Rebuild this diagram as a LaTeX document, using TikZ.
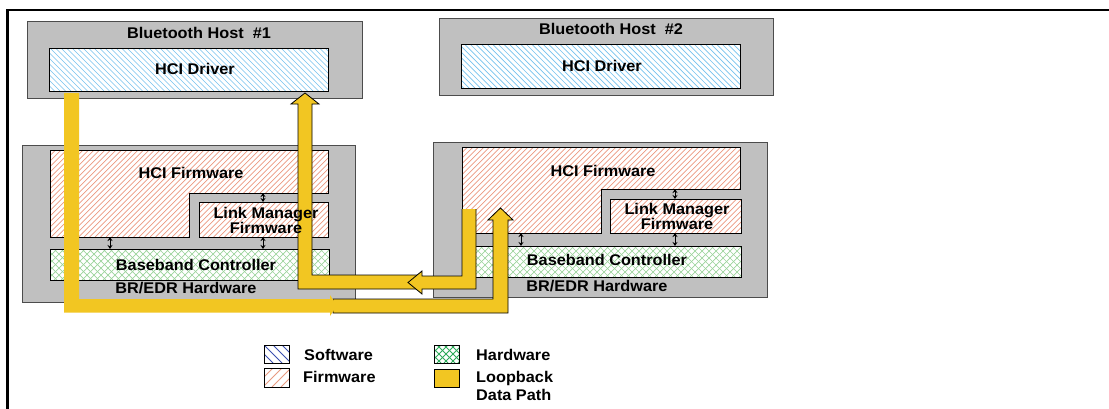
\documentclass[tikz,border=0pt]{standalone}
\usepackage{fontspec}
\setmainfont{Liberation Sans}[FakeStretch=1.05]
\usetikzlibrary{arrows.meta}
\definecolor{boxgray}{HTML}{C0C0C0}
\definecolor{loopyel}{HTML}{F2C622}
\definecolor{swblue}{HTML}{74C2EE}
\definecolor{fwsalmon}{HTML}{EC9880}
\definecolor{hwgreen}{HTML}{9CD49C}
\definecolor{lgblue}{HTML}{3A4FB0}
\definecolor{lgsalmon}{HTML}{E89A80}
\definecolor{lggreen}{HTML}{2EAA5A}
\tikzset{
  gbox/.style={draw=black!70, line width=1pt, fill=boxgray},
  inbox/.style={draw=black, line width=1pt},
  swline/.style={draw=swblue, line width=0.7pt},
  fwline/.style={draw=fwsalmon, line width=0.7pt},
  hwline/.style={draw=hwgreen, line width=0.7pt},
  loop/.style={fill=loopyel},
  loopo/.style={fill=loopyel, draw=black, line width=0.8pt, line join=miter},
  txt/.style={font=\fontsize{15.5}{15.5}\selectfont\bfseries, inner sep=0pt, align=center},
  ltxt/.style={font=\fontsize{15.5}{18}\selectfont\bfseries, inner sep=0pt, align=left, anchor=west},
  dbl/.style={{Stealth[length=4pt,width=5pt]}-{Stealth[length=4pt,width=5pt]}, line width=0.8pt},
}
% #1 x1 #2 y1 #3 x2 #4 y2 #5 clip path #6 line style #7 horizontal step #8 dir (1 = /, -1 = \)
\newcommand\hatchreg[8]{%
  \begin{scope}
  \clip #5;
  \pgfmathsetmacro\hh{#4-#2}%
  \pgfmathtruncatemacro\nn{(#3-#1+\hh)/#7+1}%
  \foreach \i in {0,...,\nn}{%
    \pgfmathsetmacro\xs{#1-\hh+\i*#7}%
    \ifnum#8>0 \draw[#6] (\xs,#4) -- ++(\hh,-\hh);\else \draw[#6] (\xs,#2) -- ++(\hh,\hh);\fi
  }%
  \end{scope}}
\begin{document}
\begin{tikzpicture}[x=1pt,y=-1pt]
\clip (0,0) rectangle (1109,408);
\fill[white] (0,0) rectangle (1109,408);
% frame
\draw[line width=2.5pt] (7.5,430) -- (7.5,10) -- (1130,10);

% ---- Host 1
\draw[gbox] (27,21) rectangle (362,98);
\fill[white] (49,48) rectangle (328,91);
\hatchreg{49}{48}{328}{91}{(49,48) rectangle (328,91)}{swline}{5.5}{-1}
\draw[inbox] (49,48) rectangle (328,91);
% ---- Host 2
\draw[gbox] (439,18) rectangle (773,95);
\fill[white] (461,44) rectangle (740,88);
\hatchreg{459}{43}{742}{89}{(461,44) rectangle (740,88)}{swline}{5.6}{-1}
\draw[inbox] (461,44) rectangle (740,88);

% ---- Device 1
\draw[gbox] (22,145) rectangle (355,302);
\fill[white] (50,150) -- (328,150) -- (328,193) -- (189,193) -- (189,237) -- (50,237) -- cycle;
\hatchreg{50}{150}{328}{237}{(50,150) -- (328,150) -- (328,193) -- (189,193) -- (189,237) -- (50,237) -- cycle}{fwline}{5.5}{1}
\draw[inbox] (50,150) -- (328,150) -- (328,193) -- (189,193) -- (189,237) -- (50,237) -- cycle;
\fill[white] (199,202) rectangle (328,237);
\hatchreg{199}{202}{328}{237}{(199,202) rectangle (328,237)}{fwline}{5.5}{1}
\draw[inbox] (199,202) rectangle (328,237);
\fill[white] (50,249) rectangle (329,280);
\hatchreg{50}{249}{329}{280}{(50,249) rectangle (329,280)}{hwline}{7}{1}
\hatchreg{50}{249}{329}{280}{(50,249) rectangle (329,280)}{hwline}{7}{-1}
\draw[inbox] (50,249) rectangle (329,280);
\coordinate (d1a1) at (110,237); \coordinate (d1b1) at (110,249);
\coordinate (d1a2) at (263,237); \coordinate (d1b2) at (263,249);
\coordinate (d1a3) at (263,193); \coordinate (d1b3) at (263,202);
\draw[dbl] (d1a1) -- (d1b1);
\draw[dbl] (d1a2) -- (d1b2);
\draw[dbl] (d1a3) -- (d1b3);

% ---- Device 2
\draw[gbox] (433,142) rectangle (767,297);
\fill[white] (462,147) -- (740,147) -- (740,189) -- (601,189) -- (601,233) -- (462,233) -- cycle;
\hatchreg{462}{147}{740}{233}{(462,147) -- (740,147) -- (740,189) -- (601,189) -- (601,233) -- (462,233) -- cycle}{fwline}{5.5}{1}
\draw[inbox] (462,147) -- (740,147) -- (740,189) -- (601,189) -- (601,233) -- (462,233) -- cycle;
\fill[white] (610,199) rectangle (741,233);
\hatchreg{610}{199}{741}{233}{(610,199) rectangle (741,233)}{fwline}{5.5}{1}
\draw[inbox] (610,199) rectangle (741,233);
\fill[white] (462,246) rectangle (741,277);
\hatchreg{462}{246}{741}{277}{(462,246) rectangle (741,277)}{hwline}{7}{1}
\hatchreg{462}{246}{741}{277}{(462,246) rectangle (741,277)}{hwline}{7}{-1}
\draw[inbox] (462,246) rectangle (741,277);
\coordinate (d2a1) at (521,233); \coordinate (d2b1) at (521,246);
\coordinate (d2a2) at (675,233); \coordinate (d2b2) at (675,246);
\coordinate (d2a3) at (675,189); \coordinate (d2b3) at (675,199);
\draw[dbl] (d2a1) -- (d2b1);
\draw[dbl] (d2a2) -- (d2b2);
\draw[dbl] (d2a3) -- (d2b3);

% ---- Loopback data path
\draw[loopo] (333,299) -- (493,299) -- (493,220) -- (488,220) -- (500.5,208)
  -- (513,220) -- (508,220) -- (508,313) -- (333,313) -- cycle;
\fill[loop] (64,93) -- (79,93) -- (79,299) -- (330,299) -- (330,295) -- (337,305.5)
  -- (330,316) -- (330,312.5) -- (64,312.5) -- cycle;
\draw[loopo] (418,275) -- (312,275) -- (312,104) -- (319,104) -- (305,93)
  -- (291,104) -- (298,104) -- (298,289) -- (418,289) -- cycle;
\fill[loop] (462,209) -- (476,209) -- (476,289) -- (422,289) -- (422,294) -- (408,282.5)
  -- (422,271) -- (422,276) -- (462,276) -- cycle;
\draw[line width=0.8pt, line join=miter] (476,209) -- (476,289) -- (422,289) -- (422,294) -- (408,282.5)
  -- (422,271) -- (422,276) -- (462,276) -- (462,209);

% ---- texts
\node[txt] (th1) at (199,33) {Bluetooth Host\ \ \#1};
\node[txt] (td1) at (195,69) {HCI Driver};
\node[txt] (th2) at (611,29) {Bluetooth Host\ \ \#2};
\node[txt] (td2) at (602,66) {HCI Driver};
\node[txt] (tf1) at (191,173) {HCI Firmware};
\node[txt] (tl1) at (266,220.5) {Link Manager\\Firmware};
\node[txt] (tb1) at (196,265) {Baseband Controller};
\node[txt] (tr1) at (186,288) {BR/EDR Hardware};
\node[txt] (tf2) at (603,171) {HCI Firmware};
\node[txt] (tl2) at (677,216.5) {Link Manager\\Firmware};
\node[txt] (tb2) at (607,260) {Baseband Controller};
\node[txt] (tr2) at (597,286) {BR/EDR Hardware};

% ---- legend
\fill[white] (264,345) rectangle (289,363);
\hatchreg{264}{345}{289}{363}{(264,345) rectangle (289,363)}{draw=lgblue,line width=0.8pt}{9}{-1}
\draw[inbox] (264,345) rectangle (289,363);
\fill[white] (264,368) rectangle (289,387);
\hatchreg{264}{368}{289}{387}{(264,368) rectangle (289,387)}{draw=lgsalmon,line width=0.8pt}{9}{1}
\draw[inbox] (264,368) rectangle (289,387);
\fill[white] (434,345) rectangle (459,363);
\hatchreg{434}{345}{459}{363}{(434,345) rectangle (459,363)}{draw=lggreen,line width=0.8pt}{7}{1}
\hatchreg{434}{345}{459}{363}{(434,345) rectangle (459,363)}{draw=lggreen,line width=0.8pt}{7}{-1}
\draw[inbox] (434,345) rectangle (459,363);
\draw[inbox, fill=loopyel] (434,369) rectangle (459,387);
\node[ltxt] (lsw) at (304,355) {Software};
\node[ltxt] (lfw) at (303,377) {Firmware};
\node[ltxt] (lhw) at (476,355) {Hardware};
\node[ltxt] (llp) at (476,386) {Loopback\\Data Path};
\end{tikzpicture}
\end{document}
